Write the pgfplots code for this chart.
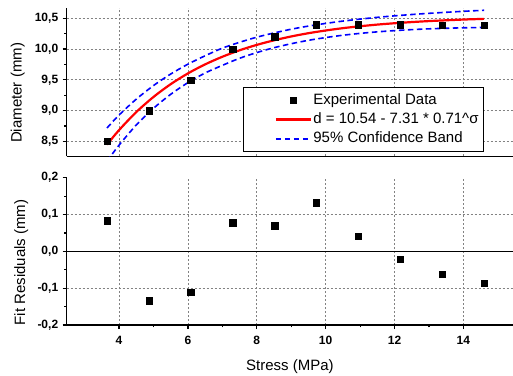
\documentclass[border=0pt]{standalone}
\usepackage{fontspec}
\setmainfont{Liberation Sans}
\usepackage{pgfplots}
\pgfplotsset{compat=1.18}
\definecolor{gridgray}{RGB}{130,130,130}
\begin{document}
\begin{tikzpicture}
\useasboundingbox (-66.7bp,-51bp) rectangle (446.3bp,325bp);
\pgfplotsset{
 common/.style={
  scale only axis, width=446.3bp,
  xmin=2.48, xmax=15.44,
  axis x line*=bottom, axis y line*=left,
  axis line style={-, line width=1.3bp, black},
  tick style={black, line width=1.2bp},
  major tick length=4bp, minor tick length=2.3bp,
  tick align=outside,
  xtick={4,6,8,10,12,14},
  minor x tick num=1, minor y tick num=1,
  xmajorgrids,
  major grid style={gridgray, line width=0.8bp, dash pattern=on 2.5bp off 1.5bp},
  tick label style={font=\bfseries\fontsize{12bp}{14bp}\selectfont},
  xticklabel style={yshift=-3.5bp},
  yticklabel style={xshift=-1bp},
  label style={font=\fontsize{15bp}{18bp}\selectfont},
 }
}
\begin{axis}[common, at={(0,168.7bp)}, height=148bp,
  ymin=8.256, ymax=10.663,
  ytick={8.5,9,9.5,10,10.5}, yticklabels={{8,5},{9,0},{9,5},{10,0},{10,5}},
  ymajorgrids,
  xticklabels={}, x tick style={draw=none},
  ylabel={Diameter (mm)},
  ylabel style={at={(axis description cs:-0.1008,0.428)}, anchor=base},
  legend style={at={(axis description cs:0.3957,0.4662)}, anchor=north west,
    draw=black, line width=0.8bp, fill=white, inner xsep=3bp, inner ysep=3bp,
    font=\fontsize{15bp}{18bp}\selectfont,
    nodes={inner xsep=1.5bp, inner ysep=2.35bp, text height=11bp, text depth=3.5bp}},
  legend cell align=left,
  legend image code/.code={\path (-28bp,0bp); \draw[mark repeat=2,mark phase=2,#1] plot coordinates {(0bp,0bp) (17.5bp,0bp) (35bp,0bp)};},
]
\addplot[only marks, mark=square*, mark size=3.2bp, mark options={fill=black, draw=black, line width=0.2bp}] coordinates {
(3.65,8.50) (4.87,9.00) (6.08,9.50) (7.30,10.00) (8.52,10.20) (9.73,10.40) (10.95,10.40) (12.16,10.40) (13.38,10.39) (14.60,10.39)};
\addlegendentry{Experimental Data}
\addplot[red, line width=2.2bp, no marks, smooth] coordinates {
(3.65,8.446) (4.0,8.682) (4.5,8.975) (5.0,9.221) (5.5,9.429) (6.0,9.604) (6.5,9.751) (7.0,9.875) (7.5,9.980) (8.0,10.068) (8.5,10.142) (9.0,10.205) (9.5,10.258) (10.0,10.302) (10.5,10.340) (11.0,10.371) (11.5,10.398) (12.0,10.420) (12.5,10.439) (13.0,10.455) (13.5,10.468) (14.0,10.480) (14.6,10.491)};
\addlegendentry{d = 10.54 - 7.31 * 0.71\textasciicircum σ\hspace{40bp}}
\addplot[blue, line width=1.6bp, no marks, smooth, dash pattern=on 5.5bp off 3.5bp] coordinates {
(3.65,8.716) (4.0,8.927) (4.5,9.185) (5.0,9.406) (5.5,9.594) (6.0,9.754) (6.5,9.891) (7.0,10.015) (7.5,10.110) (8.0,10.193) (8.5,10.262) (9.0,10.323) (9.5,10.374) (10.0,10.417) (10.5,10.455) (11.0,10.487) (11.5,10.516) (12.0,10.540) (12.5,10.562) (13.0,10.581) (13.5,10.598) (14.0,10.614) (14.6,10.631)};
\addlegendentry{95\% Confidence Band}
\addplot[blue, line width=1.6bp, no marks, smooth, dash pattern=on 5.5bp off 3.5bp, forget plot] coordinates {
(3.65,8.176) (4.0,8.437) (4.5,8.765) (5.0,9.036) (5.5,9.264) (6.0,9.454) (6.5,9.611) (7.0,9.735) (7.5,9.850) (8.0,9.943) (8.5,10.022) (9.0,10.087) (9.5,10.142) (10.0,10.187) (10.5,10.225) (11.0,10.255) (11.5,10.280) (12.0,10.300) (12.5,10.316) (13.0,10.329) (13.5,10.338) (14.0,10.346) (14.6,10.351)};
\end{axis}
\begin{axis}[common, at={(0,0)}, height=147.3bp,
  ymin=-0.2, ymax=0.2,
  ytick={-0.2,-0.1,0,0.1,0.2}, yticklabels={{-0,2},{-0,1},{0,0},{0,1},{0,2}},
  xticklabels={4,6,8,10,12,14},
  xlabel={Stress (MPa)},
  xlabel style={at={(axis description cs:0.5,-0.310)}, anchor=base},
  ylabel={Fit Residuals (mm)},
  ylabel style={at={(axis description cs:-0.0934,0.424)}, anchor=base},
]
\draw[gridgray, line width=0.8bp, dash pattern=on 2.5bp off 1.5bp] (axis cs:2.48,0.1) -- (axis cs:15.44,0.1);
\draw[gridgray, line width=0.8bp, dash pattern=on 2.5bp off 1.5bp] (axis cs:2.48,-0.1) -- (axis cs:15.44,-0.1);
\draw[black, line width=1bp] (axis cs:2.48,0) -- (axis cs:15.44,0);
\addplot[only marks, mark=square*, mark size=3.2bp, mark options={fill=black, draw=black, line width=0.2bp}] coordinates {
(3.65,0.083) (4.87,-0.134) (6.08,-0.110) (7.30,0.078) (8.52,0.070) (9.73,0.132) (10.95,0.041) (12.16,-0.021) (13.38,-0.062) (14.60,-0.087)};
\end{axis}
\end{tikzpicture}
\end{document}
